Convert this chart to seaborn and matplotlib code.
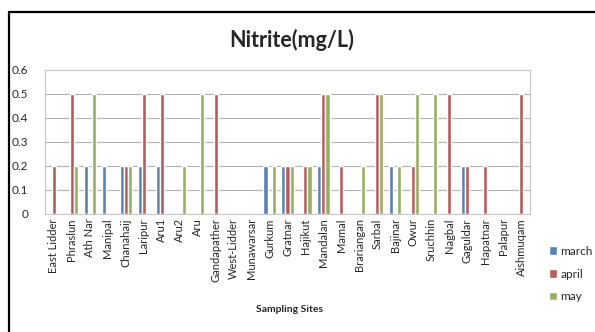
import matplotlib
matplotlib.use('Agg')
import matplotlib.pyplot as plt
from matplotlib.lines import Line2D
import seaborn as sns
import pandas as pd

sites = ['East Lidder', 'Phraslun', 'Ath Nar', 'Manipal', 'Chanahaij', 'Laripur',
         'Aru1', 'Aru2', 'Aru', 'Gandapather', 'West-Lidder', 'Munawarsar',
         'Gurkum', 'Gratnar', 'Hajikut', 'Mandalan', 'Mamal', 'Brariangan',
         'Sarbal', 'Bajinar', 'Owur', 'Sruchhin', 'Nagbal', 'Gaguldar',
         'Hapatnar', 'Palapur', 'Aishmuqam']
march = [0, 0, 0.2, 0.2, 0.2, 0.2, 0.2, 0, 0, 0, 0, 0, 0.2, 0.2, 0, 0.2, 0, 0,
         0, 0.2, 0, 0, 0, 0.2, 0, 0, 0]
april = [0.2, 0.5, 0, 0, 0.2, 0.5, 0.5, 0, 0, 0.5, 0, 0, 0, 0.2, 0.2, 0.5, 0.2, 0,
         0.5, 0, 0.2, 0, 0.5, 0.2, 0.2, 0, 0.5]
may = [0, 0.2, 0.5, 0, 0.2, 0, 0, 0.2, 0.5, 0, 0, 0, 0.2, 0.2, 0.2, 0.5, 0, 0.2,
       0.5, 0.2, 0.5, 0.5, 0, 0, 0, 0, 0]
months = ['march', 'april', 'may']
colors = ['#4F81BD', '#C0504D', '#9BBB59']

df = pd.DataFrame({'site': sites * 3,
                   'month': [m for m in months for _ in sites],
                   'value': march + april + may})

sns.set_style('white')
plt.rcParams['font.family'] = ['Lato', 'DejaVu Sans']

fig = plt.figure(figsize=(5.95, 3.32), dpi=100)
ax = fig.add_axes([45 / 595, 1 - 214 / 332, 485 / 595, 144 / 332])
sns.barplot(data=df, x='site', y='value', hue='month', palette=colors,
            width=0.68, ax=ax, legend=True)

ax.set_ylim(0, 0.6)
ax.set_yticks([0, 0.1, 0.2, 0.3, 0.4, 0.5, 0.6])
ax.set_yticklabels(['0', '0.1', '0.2', '0.3', '0.4', '0.5', '0.6'], fontsize=8.5)
ax.set_xlim(-0.5, len(sites) - 0.5)
ax.tick_params(axis='x', labelrotation=90, labelsize=8, length=0, pad=3)
ax.tick_params(axis='y', length=0, pad=12)
ax.grid(True, axis='y', color='#b0b0b0', linewidth=0.8)
ax.set_axisbelow(True)
for s in ax.spines.values():
    s.set_color('#c8c8c8')
    s.set_linewidth(0.8)
ax.set_xlabel('')
ax.set_ylabel('')

handles, labels = ax.get_legend_handles_labels()
ax.legend().remove()
fig.legend(handles, labels, loc='center left', bbox_to_anchor=(538 / 595, 1 - 274 / 332),
           frameon=False, fontsize=8.5, handlelength=0.7, handleheight=0.7,
           handletextpad=0.3, labelspacing=1.0)

fig.text(292 / 595, 1 - 40 / 332, 'Nitrite(mg/L)', ha='center', va='center',
         fontsize=15.5, fontweight='bold')
fig.text(290 / 595, 1 - 310 / 332, 'Sampling Sites', ha='center', va='center',
         fontsize=7.5, fontweight='bold')

# chart border (top and left edges visible)
fig.add_artist(Line2D([9 / 595, 1], [1 - 12 / 332, 1 - 12 / 332], color='black', linewidth=1.6))
fig.add_artist(Line2D([9 / 595, 9 / 595], [0, 1 - 12 / 332], color='black', linewidth=1.6))

fig.savefig('out.png', dpi=100)
